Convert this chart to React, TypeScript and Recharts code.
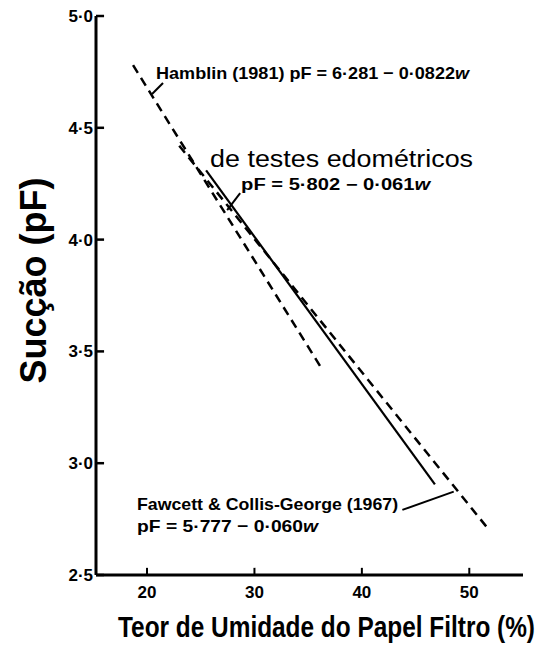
import React from "react";
import { LineChart, Line, XAxis, YAxis, ReferenceLine, ReferenceDot, Label } from "recharts";

// ---- data ----
const xTicks = [20, 30, 40, 50];
const yTicks = [2.5, 3.0, 3.5, 4.0, 4.5, 5.0];
const xDomain = [15.25, 55];
const yDomain = [2.5, 5.0];

// Hamblin (1981) dashed line
const hamblinW = [18.7, 36.3];
const hamblinPF = [4.78, 3.42];
// "de testes edométricos" solid line
const edoW = [25.5, 46.8];
const edoPF = [4.31, 2.905];
// Fawcett & Collis-George (1967) dashed line
const fawcettW = [23.0, 51.7];
const fawcettPF = [4.42, 2.71];

// leader lines from annotations to their curves: [w1, pF1, w2, pF2]
const hamblinLeader = [21.49, 4.7, 20.47, 4.651];
const edoLeader = [28.67, 4.208, 27.46, 4.132];
const fawcettLeader = [43.77, 2.791, 48.55, 2.873];

// annotation texts and their anchor (start of text, baseline) in data units
const annoTexts = [
  "Hamblin (1981) pF = 6·281 − 0·0822",
  "de testes edométricos",
  "pF = 5·802 − 0·061",
  "Fawcett & Collis-George (1967)",
  "pF = 5·777 − 0·060",
];
const annoW = [20.84, 25.87, 28.76, 19.07, 19.07];
const annoPF = [4.718, 4.325, 4.222, 2.791, 2.692];
const annoItalicW = [true, false, true, false, true];

const xTitle = "Teor de Umidade do Papel Filtro (%)";
const yTitle = "Sucção (pF)";

// ---- styling ----
const FONT = "'Liberation Sans', Arial, Helvetica, sans-serif";
const annoStyle = [
  { size: 17, weight: "bold", len: 313 },
  { size: 23, weight: "normal", len: 263 },
  { size: 16, weight: "bold", len: 189 },
  { size: 17, weight: "bold", len: 261 },
  { size: 17, weight: "bold", len: 181 },
];

const toPts = (ws: number[], ps: number[]) => ws.map((w, i) => ({ w, pF: ps[i] }));
const hamblinData = toPts(hamblinW, hamblinPF);
const edoData = toPts(edoW, edoPF);
const fawcettData = toPts(fawcettW, fawcettPF);

// axis frame and inward ticks, in data units so they go through the chart's scales
const Y_TICK_LEN = 0.75; // along w
const X_TICK_LEN = 0.032; // along pF
const yAxisData = [
  { w: xDomain[0], pF: yDomain[0] },
  { w: xDomain[0], pF: yDomain[1] },
];
const xAxisData = [
  { w: xDomain[0], pF: yDomain[0] },
  { w: xDomain[1], pF: yDomain[0] },
];
const yTickData = yTicks.map((t) => [
  { w: xDomain[0], pF: t },
  { w: xDomain[0] + Y_TICK_LEN, pF: t },
]);
const xTickData = xTicks.map((t) => [
  { w: t, pF: yDomain[0] },
  { w: t, pF: yDomain[0] + X_TICK_LEN },
]);

const fmt = (v: number) => v.toFixed(1).replace(".", "\u00B7");

const YTick = (props: any) => {
  const { x, y, payload } = props;
  return (
    <text x={x} y={y} dy={6} textAnchor="end" fontFamily={FONT} fontWeight="bold" fontSize={17} fill="#000">
      {fmt(payload.value)}
    </text>
  );
};

const XTick = (props: any) => {
  const { x, y, payload } = props;
  return (
    <text x={x} y={y} dy={20} textAnchor="middle" fontFamily={FONT} fontWeight="bold" fontSize={17} fill="#000">
      {payload.value}
    </text>
  );
};

const seg = (a: number[]) => [
  { x: a[0], y: a[1] },
  { x: a[2], y: a[3] },
];

const makeAnno = (i: number) => (p: any) => {
  const vb = p.viewBox || {};
  const st = annoStyle[i];
  return (
    <text
      x={vb.x}
      y={vb.y}
      fontFamily={FONT}
      fontSize={st.size}
      fontWeight={st.weight}
      fill="#000"
      textLength={st.len}
      lengthAdjust="spacingAndGlyphs"
    >
      {annoTexts[i]}
      {annoItalicW[i] ? <tspan fontStyle="italic">w</tspan> : null}
    </text>
  );
};

const XTitle = (p: any) => {
  const vb = p.viewBox || {};
  return (
    <text
      x={0}
      y={0}
      transform={`translate(${vb.x + 22},${vb.y + 62}) scale(1,1.18)`}
      fontFamily={FONT}
      fontSize={25}
      fontWeight="bold"
      fill="#000"
      textLength={417}
      lengthAdjust="spacingAndGlyphs"
    >
      {xTitle}
    </text>
  );
};

const YTitle = (p: any) => {
  const vb = p.viewBox || {};
  const cx = vb.x + 10;
  const cy = vb.y + vb.height / 2 - 15;
  return (
    <text
      x={0}
      y={0}
      transform={`translate(${cx},${cy}) rotate(-90)`}
      textAnchor="middle"
      fontFamily={FONT}
      fontSize={36}
      fontWeight="bold"
      fill="#000"
      textLength={206}
      lengthAdjust="spacingAndGlyphs"
    >
      {yTitle}
    </text>
  );
};

export default function App() {
  return (
    <div style={{ position: "absolute", left: 0, top: 0, width: 553, height: 648, background: "#fff" }}>
      <LineChart width={553} height={648} margin={{ top: 16, right: 30, bottom: 43, left: 36 }}>
        <XAxis
          type="number"
          dataKey="w"
          domain={xDomain}
          ticks={xTicks}
          height={30}
          tickSize={0}
          tickMargin={3}
          tick={<XTick />}
          axisLine={false}
          tickLine={false}
          label={<Label content={XTitle} />}
        />
        <YAxis
          type="number"
          dataKey="pF"
          domain={yDomain}
          ticks={yTicks}
          width={60}
          tickSize={0}
          tickMargin={3}
          tick={<YTick />}
          axisLine={false}
          tickLine={false}
          label={<Label content={YTitle} />}
        />
        <Line data={yAxisData} dataKey="pF" stroke="#000" strokeWidth={3} dot={false} isAnimationActive={false} />
        <Line data={xAxisData} dataKey="pF" stroke="#000" strokeWidth={3} dot={false} isAnimationActive={false} />
        {yTickData.map((d, i) => (
          <Line key={"yt" + i} data={d} dataKey="pF" stroke="#000" strokeWidth={2.5} dot={false} isAnimationActive={false} />
        ))}
        {xTickData.map((d, i) => (
          <Line key={"xt" + i} data={d} dataKey="pF" stroke="#000" strokeWidth={2} dot={false} isAnimationActive={false} />
        ))}
        <Line
          data={hamblinData}
          dataKey="pF"
          stroke="#000"
          strokeWidth={2.5}
          strokeDasharray="9 6"
          dot={false}
          isAnimationActive={false}
        />
        <Line
          data={fawcettData}
          dataKey="pF"
          stroke="#000"
          strokeWidth={2.5}
          strokeDasharray="9 6"
          dot={false}
          isAnimationActive={false}
        />
        <Line data={edoData} dataKey="pF" stroke="#000" strokeWidth={2.2} dot={false} isAnimationActive={false} />
        <ReferenceLine segment={seg(hamblinLeader)} stroke="#000" strokeWidth={2} ifOverflow="visible" />
        <ReferenceLine segment={seg(edoLeader)} stroke="#000" strokeWidth={2} ifOverflow="visible" />
        <ReferenceLine segment={seg(fawcettLeader)} stroke="#000" strokeWidth={2} ifOverflow="visible" />
        {annoTexts.map((_, i) => (
          <ReferenceDot
            key={"anno" + i}
            x={annoW[i]}
            y={annoPF[i]}
            r={0}
            fill="none"
            stroke="none"
            ifOverflow="visible"
            label={<Label content={makeAnno(i)} />}
          />
        ))}
      </LineChart>
    </div>
  );
}
